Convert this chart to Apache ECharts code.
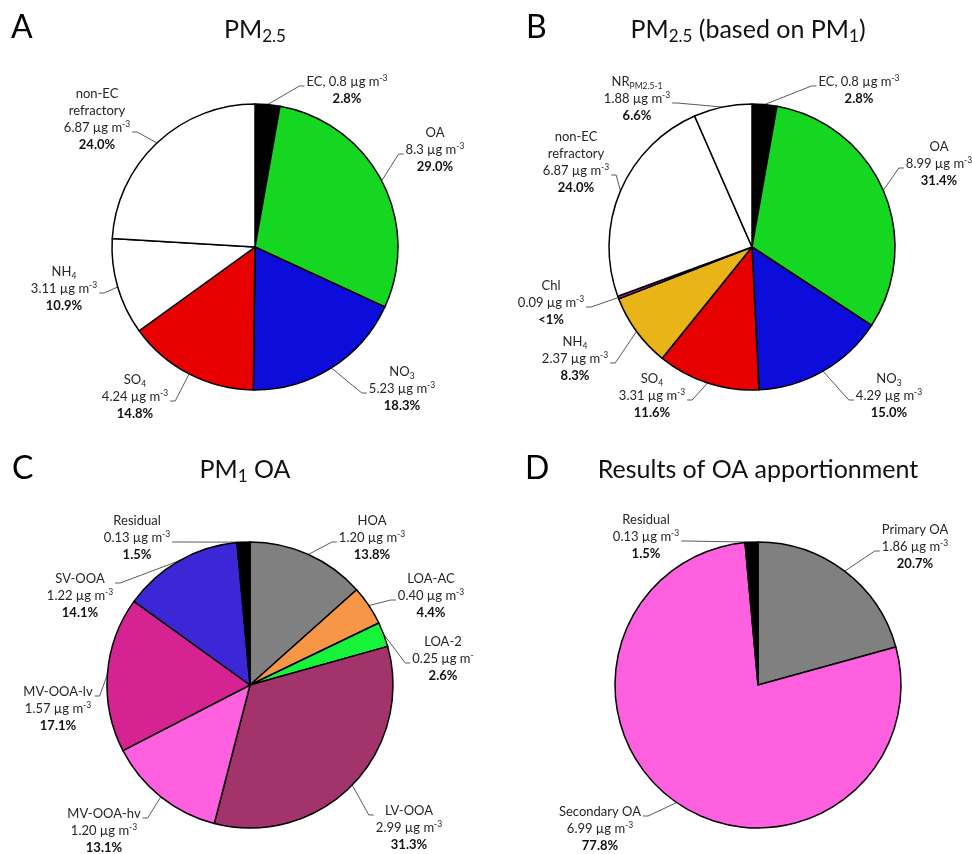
<!DOCTYPE html>
<html>
<head>
<meta charset="utf-8">
<script src="https://cdn.jsdelivr.net/npm/echarts@6/dist/echarts.min.js"></script>
<style>
  html, body { margin: 0; padding: 0; background: #fff; }
  #chart { width: 972px; height: 854px; }
</style>
</head>
<body>
<div id="chart"></div>
<script>
// ---- A: PM2.5 ----
const aNames   = ['EC', 'OA', 'NO_3', 'SO_4', 'NH_4', 'non-EC\nrefractory'];
const aValues  = [0.8, 8.3, 5.23, 4.24, 3.11, 6.87];
const aPercent = ['2.8%', '29.0%', '18.3%', '14.8%', '10.9%', '24.0%'];

// ---- B: PM2.5 (based on PM1) ----
const bNames   = ['EC', 'OA', 'NO_3', 'SO_4', 'NH_4', 'Chl', 'non-EC\nrefractory', 'NR_PM2.5-1'];
const bValues  = [0.8, 8.99, 4.29, 3.31, 2.37, 0.09, 6.87, 1.88];
const bPercent = ['2.8%', '31.4%', '15.0%', '11.6%', '8.3%', '<1%', '24.0%', '6.6%'];

// ---- C: PM1 OA ----
const cNames   = ['HOA', 'LOA-AC', 'LOA-2', 'LV-OOA', 'MV-OOA-hv', 'MV-OOA-lv', 'SV-OOA', 'Residual'];
const cValues  = [1.20, 0.40, 0.25, 2.99, 1.20, 1.57, 1.22, 0.13];
const cPercent = ['13.8%', '4.4%', '2.6%', '31.3%', '13.1%', '17.1%', '14.1%', '1.5%'];
const cUnitExp = ['-3', '-3', '-', '-3', '-3', '-3', '-3', '-3'];

// ---- D: Results of OA apportionment ----
const dNames   = ['Primary OA', 'Secondary OA', 'Residual'];
const dValues  = [1.86, 6.99, 0.13];
const dPercent = ['20.7%', '77.8%', '1.5%'];

// slice colours
const aColors = ['#000000', '#15D722', '#0C0CDB', '#E60000', '#FFFFFF', '#FFFFFF'];
const bColors = ['#000000', '#15D722', '#0C0CDB', '#E60000', '#E9B418', '#B01EB8', '#FFFFFF', '#FFFFFF'];
const cColors = ['#808080', '#F79646', '#17F23A', '#A3346B', '#FF60E0', '#D52492', '#3C27D6', '#000000'];
const dColors = ['#808080', '#FF60E0', '#000000'];

// label placement: [dx, dy of first text line from pie centre, side the leader joins, line it joins]
const aLabelPos = [[92, -165, 'L', 0], [180, -114, 'L', 1], [147, 125, 'L', 1],
                   [-120, 133, 'R', 1], [-191, 25, 'R', 1], [-158, -153, 'R', 2]];
const bLabelPos = [[107, -165, 'L', 0], [187, -100, 'L', 1], [137, 132, 'L', 1], [-100, 132, 'R', 1],
                   [-177, 95, 'R', 1], [-201, 39, 'R', 1], [-176, -110, 'R', 2], [-115, -165, 'R', 1]];
const cLabelPos = [[122, -164, 'L', 1], [181, -106, 'L', 1], [193, -43, 'L', 1], [159, 126, 'L', 0],
                   [-146, 129, 'R', 0], [-192, 7, 'R', 0], [-170, -106, 'R', 0], [-113, -164, 'R', 1]];
const dLabelPos = [[157, -155, 'L', 1], [-158, 127, 'R', 0], [-112, -165, 'R', 1]];

const FONT = 'Lato, "Open Sans", sans-serif';
const R = 143;
const LH = 17;
const GAP = 5;
const TXT = '#262626';

const labelRich = {
  t:   { fontFamily: FONT, fontSize: 13, lineHeight: LH, color: TXT },
  sub: { fontFamily: FONT, fontSize: 8.5, lineHeight: 8, color: TXT, verticalAlign: 'bottom' },
  sup: { fontFamily: FONT, fontSize: 8.5, lineHeight: 13, color: TXT, verticalAlign: 'top' },
  b:   { fontFamily: FONT, fontSize: 13, lineHeight: LH, color: '#111111', fontWeight: 'bold' }
};

function richName(s) {
  const i = s.indexOf('_');
  return i < 0 ? `{t|${s}}` : `{t|${s.slice(0, i)}}{sub|${s.slice(i + 1)}}`;
}

function buildLabel(name, valText, exp, pct) {
  const unit = `{t|${valText} µg m}{sup|${exp}}`;
  if (name === 'EC') {
    return `{t|EC, }${unit}\n{b|${pct}}`;
  }
  const head = name.split('\n').map(richName).join('\n');
  return `${head}\n${unit}\n{b|${pct}}`;
}

function pieSeries(cfg) {
  const total = cfg.values.reduce((s, v) => s + v, 0);
  const labels = cfg.names.map((n, i) => {
    const v = cfg.values[i];
    const txt = cfg.digits == null ? String(v) : v.toFixed(cfg.digits);
    const exp = cfg.exps ? cfg.exps[i] : '-3';
    return buildLabel(n, txt, exp, cfg.percents[i]);
  });
  // mid-angle of each slice, used if the library gives no guide-line start
  const mids = [];
  let acc = 0;
  cfg.values.forEach(v => { mids.push((acc + v / 2) / total * Math.PI * 2); acc += v; });

  return {
    type: 'pie',
    center: cfg.center,
    radius: R,
    startAngle: 90,
    clockwise: true,
    avoidLabelOverlap: false,
    silent: true,
    animation: false,
    itemStyle: { borderColor: '#000', borderWidth: 1.5 },
    label: {
      show: true,
      position: 'outside',
      align: 'center',
      formatter: p => labels[p.dataIndex],
      rich: labelRich
    },
    labelLine: { show: true, length: 10, length2: 5, lineStyle: { color: '#5a5a5a', width: 1 } },
    labelLayout: function (p) {
      const s = cfg.pos[p.dataIndex];
      const cx = cfg.center[0], cy = cfg.center[1];
      const w = p.labelRect.width;
      const bx = cx + s[0];
      const top = cy + s[1] - LH / 2;
      const dir = s[2] === 'L' ? -1 : 1;
      const ay = top + s[3] * LH + LH / 2 + 4;
      const ax = bx + dir * (w / 2 + 2);
      const ex = ax + dir * GAP;
      let start;
      if (p.labelLinePoints && p.labelLinePoints[0]) {
        start = p.labelLinePoints[0];
      } else {
        const a = mids[p.dataIndex];
        start = [cx + R * Math.sin(a), cy - R * Math.cos(a)];
      }
      return {
        x: bx, y: top, align: 'center', verticalAlign: 'top',
        labelLinePoints: [start, [ex, ay], [ax, ay]]
      };
    },
    data: cfg.values.map((v, i) => ({
      name: cfg.names[i].replace('_', '').replace('\n', ' '),
      value: v,
      itemStyle: { color: cfg.colors[i] }
    }))
  };
}

const titleRich = {
  a: { fontFamily: FONT, fontSize: 25, fontWeight: 'normal', lineHeight: 30, color: '#111' },
  s: { fontFamily: FONT, fontSize: 17, fontWeight: 'normal', lineHeight: 16, color: '#111', verticalAlign: 'bottom' }
};
const letterStyle = { fontFamily: FONT, fontSize: 32, fontWeight: 'normal', color: '#000' };

const chart = echarts.init(document.getElementById('chart'), null, { renderer: 'canvas' });
chart.setOption({
  backgroundColor: '#ffffff',
  animation: false,
  title: [
    { text: 'A', left: 11, top: 12, padding: 0, textStyle: letterStyle },
    { text: 'B', left: 526, top: 12, padding: 0, textStyle: letterStyle },
    { text: 'C', left: 12, top: 453, padding: 0, textStyle: letterStyle },
    { text: 'D', left: 525, top: 453, padding: 0, textStyle: letterStyle },
    { text: '{a|PM}{s|2.5}', left: 255, top: 15, padding: 0, textAlign: 'center', textStyle: { fontWeight: 'normal', rich: titleRich } },
    { text: '{a|PM}{s|2.5}{a| (based on PM}{s|1}{a|)}', left: 748, top: 15, padding: 0, textAlign: 'center', textStyle: { fontWeight: 'normal', rich: titleRich } },
    { text: '{a|PM}{s|1}{a| OA}', left: 245, top: 455, padding: 0, textAlign: 'center', textStyle: { fontWeight: 'normal', rich: titleRich } },
    { text: '{a|Results of OA apportionment}', left: 758, top: 455, padding: 0, textAlign: 'center', textStyle: { fontWeight: 'normal', rich: titleRich } }
  ],
  series: [
    pieSeries({ center: [255, 247], names: aNames, values: aValues, percents: aPercent, colors: aColors, pos: aLabelPos }),
    pieSeries({ center: [752, 247], names: bNames, values: bValues, percents: bPercent, colors: bColors, pos: bLabelPos }),
    pieSeries({ center: [250, 685], names: cNames, values: cValues, percents: cPercent, colors: cColors, pos: cLabelPos, digits: 2, exps: cUnitExp }),
    pieSeries({ center: [758, 685], names: dNames, values: dValues, percents: dPercent, colors: dColors, pos: dLabelPos, digits: 2 })
  ]
});
</script>
</body>
</html>
